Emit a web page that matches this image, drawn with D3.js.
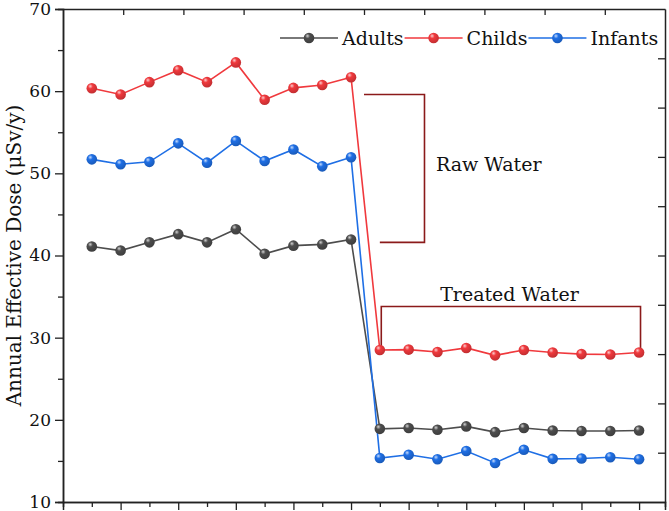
<!DOCTYPE html>
<html>
<head>
<meta charset="utf-8">
<script src="https://cdn.jsdelivr.net/npm/d3@7"></script>
<style>
  body { margin: 0; background: #fff; }
  svg { display: block; font-family: "DejaVu Serif", "Liberation Serif", serif; }
</style>
</head>
<body>
<div id="chart"></div>
<script>
// Chart data
var samples = d3.range(1, 21);
var adults = [41.1, 40.6, 41.6, 42.6, 41.6, 43.2, 40.2, 41.2, 41.35, 41.95,
              18.9, 19.0, 18.8, 19.2, 18.5, 19.0, 18.7, 18.65, 18.65, 18.7];
var childs = [60.35, 59.6, 61.1, 62.55, 61.1, 63.5, 58.95, 60.4, 60.75, 61.7,
              28.5, 28.55, 28.25, 28.75, 27.85, 28.5, 28.2, 28.0, 27.95, 28.2];
var infants = [51.7, 51.1, 51.4, 53.65, 51.3, 53.95, 51.5, 52.9, 50.85, 51.95,
               15.35, 15.75, 15.2, 16.2, 14.75, 16.35, 15.25, 15.3, 15.45, 15.2];
var seriesNames = ["Adults", "Childs", "Infants"];
var yTicks = [10, 20, 30, 40, 50, 60, 70];

var series = [
  {name: seriesNames[0], values: adults, color: "#4d4d4d"},
  {name: seriesNames[1], values: childs, color: "#f0393d"},
  {name: seriesNames[2], values: infants, color: "#1f6fe5"}
];

var svgWidth = 669;
var svgHeight = 511;
var margin = {top: 9, right: 4, bottom: 9, left: 63};
var chartWidth = svgWidth - margin.left - margin.right;
var chartHeight = svgHeight - margin.top - margin.bottom;

var svg = d3.select("#chart").append("svg")
  .attr("width", svgWidth)
  .attr("height", svgHeight);

// marker gradients (shaded balls)
var defs = svg.append("defs");
series.forEach(function(s, i) {
  var g = defs.append("radialGradient")
    .attr("id", "ball" + i)
    .attr("cx", "0.4").attr("cy", "0.35").attr("r", "0.65")
    .attr("fx", "0.35").attr("fy", "0.3");
  g.append("stop").attr("offset", "0%").attr("stop-color", d3.interpolateRgb(s.color, "#fff")(0.75));
  g.append("stop").attr("offset", "35%").attr("stop-color", s.color);
  g.append("stop").attr("offset", "100%").attr("stop-color", d3.color(s.color).darker(0.6));
});

var chartGroup = svg.append("g")
  .attr("transform", `translate(${margin.left}, ${margin.top})`);

var x = d3.scaleLinear().domain([0, 20.9]).range([0, chartWidth]);
var y = d3.scaleLinear().domain([10, 70]).range([chartHeight, 0]);
var frac = d3.scaleLinear().domain([0, 1]);

// axes
function styleAxis(g) {
  g.select(".domain").attr("stroke", "#222").attr("stroke-width", 1.5);
  g.selectAll(".tick line").attr("stroke", "#222").attr("stroke-width", 1.3);
}

chartGroup.append("g")
  .attr("transform", `translate(0, ${chartHeight})`)
  .call(d3.axisBottom(x).tickValues(d3.range(1, 20, 2)).tickSize(5).tickFormat(""))
  .call(styleAxis);
chartGroup.append("g")
  .attr("transform", `translate(0, ${chartHeight})`)
  .call(d3.axisBottom(x).tickValues(d3.range(2, 21, 2)).tickSize(8).tickFormat(""))
  .call(styleAxis);

chartGroup.append("g")
  .call(d3.axisLeft(y).tickValues(d3.range(15, 70, 10)).tickSize(5).tickFormat(""))
  .call(styleAxis);
var yAxis = chartGroup.append("g")
  .call(d3.axisLeft(y).tickValues(yTicks).tickSize(8).tickPadding(4))
  .call(styleAxis);
yAxis.selectAll("text")
  .attr("font-family", "DejaVu Serif, serif")
  .attr("font-size", 17)
  .attr("fill", "#111");

chartGroup.append("g")
  .call(d3.axisTop(frac.copy().range([0, chartWidth])).tickValues(d3.range(0.1, 0.95, 0.1)).tickSizeInner(-6).tickSizeOuter(0).tickFormat(""))
  .call(styleAxis);
chartGroup.append("g")
  .attr("transform", `translate(${chartWidth}, 0)`)
  .call(d3.axisRight(frac.copy().range([chartHeight, 0])).tickValues(d3.range(0.1, 0.95, 0.1)).tickSizeInner(-7).tickSizeOuter(0).tickFormat(""))
  .call(styleAxis);

// y axis title
chartGroup.append("text")
  .attr("transform", `translate(${-margin.left + 21}, ${chartHeight / 2}) rotate(-90)`)
  .attr("text-anchor", "middle")
  .attr("font-size", 20)
  .attr("fill", "#111")
  .text("Annual Effective Dose (\u03bcSv/y)");

// lines and markers
var line = d3.line()
  .x((d, i) => x(samples[i]))
  .y(d => y(d));

series.forEach(function(s, k) {
  chartGroup.append("path")
    .datum(s.values)
    .attr("fill", "none")
    .attr("stroke", s.color)
    .attr("stroke-width", 1.6)
    .attr("d", line);
});

// bracket annotations
var bracketColor = "#8b1a1a";
var raw = chartGroup.append("g");
raw.append("path")
  .attr("fill", "none")
  .attr("stroke", bracketColor)
  .attr("stroke-width", 1.6)
  .attr("d", `M${x(10.45)},${y(59.6)} H${x(12.55)} V${y(41.6)} H${x(11.0)}`);
raw.append("text")
  .attr("x", x(12.95))
  .attr("y", y(50.3))
  .attr("font-size", 19)
  .attr("fill", "#111")
  .text("Raw Water");

var treated = chartGroup.append("g");
treated.append("path")
  .attr("fill", "none")
  .attr("stroke", bracketColor)
  .attr("stroke-width", 1.6)
  .attr("d", `M${x(11.05)},${y(childs[10])} V${y(33.8)} H${x(20.05)} V${y(childs[19])}`);
treated.append("text")
  .attr("x", x(15.5))
  .attr("y", y(34.5))
  .attr("text-anchor", "middle")
  .attr("font-size", 19)
  .attr("fill", "#111")
  .text("Treated Water");

series.forEach(function(s, k) {
  chartGroup.selectAll(".dot" + k)
    .data(s.values)
    .enter()
    .append("circle")
    .attr("cx", (d, i) => x(samples[i]))
    .attr("cy", d => y(d))
    .attr("r", 5.3)
    .attr("fill", "url(#ball" + k + ")");
});

// legend
var legend = svg.append("g").attr("transform", "translate(280, 38)");
var lx = 0;
series.forEach(function(s, k) {
  var item = legend.append("g").attr("transform", `translate(${lx}, 0)`);
  item.append("line")
    .attr("x1", 0).attr("x2", 58)
    .attr("stroke", s.color).attr("stroke-width", 1.6);
  item.append("circle")
    .attr("cx", 29).attr("r", 5.3)
    .attr("fill", "url(#ball" + k + ")");
  var t = item.append("text")
    .attr("x", 62)
    .attr("y", 7)
    .attr("font-size", 19)
    .attr("fill", "#111")
    .text(s.name);
  lx += 62 + t.node().getComputedTextLength() + 1;
});
</script>
</body>
</html>
